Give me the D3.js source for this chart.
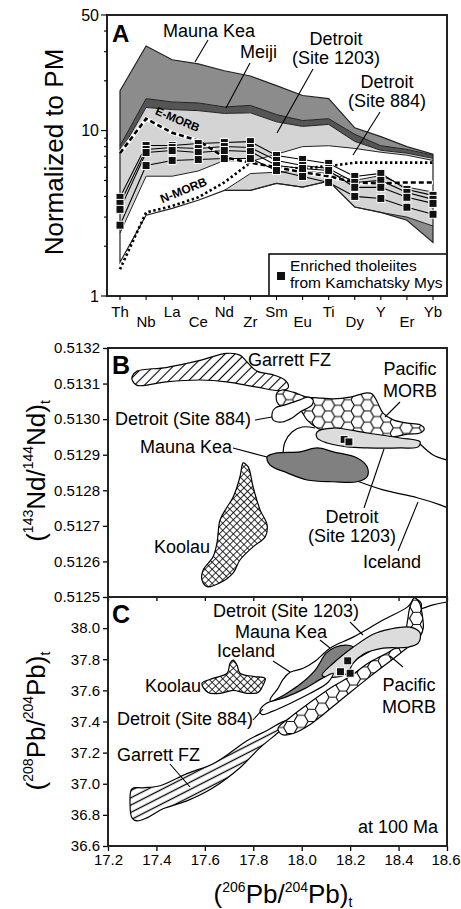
<!DOCTYPE html>
<html>
<head>
<meta charset="utf-8">
<script src="https://cdn.jsdelivr.net/npm/d3@7/dist/d3.min.js"></script>
<style>
  body { margin: 0; background: #fff; }
  svg { display: block; font-family: "Liberation Sans", Arial, Helvetica, sans-serif; }
</style>
</head>
<body>
<svg id="chart" width="461" height="909"></svg>
<script>
// ---------- Panel A: primitive-mantle normalised patterns ----------
const elements = ["Th", "Nb", "La", "Ce", "Nd", "Zr", "Sm", "Eu", "Ti", "Dy", "Y", "Er", "Yb"];
const yTicksA = [1, 10, 50];
const yMinorA = [2, 3, 4, 5, 6, 7, 8, 9, 20, 30, 40];

const maunaKeaTop = [17.4, 32.5, 26.8, 25.3, 23.0, 21.4, 18.7, 16.3, 15.6, 10.4, 9.2, 8.0, 7.2];
const meijiTop = [8.1, 15.6, 14.9, 14.7, 13.9, 14.2, 12.5, 11.5, 11.8, 9.5, 8.1, 7.7, 7.1];
const meijiBase = [7.3, 13.8, 13.4, 13.2, 12.7, 12.8, 11.3, 10.6, 10.9, 8.6, 7.6, 7.3, 6.8];
const detroit1203Base = [2.4, 5.3, 5.3, 5.7, 6.6, 6.5, 7.2, 8.0, 8.1, 7.8, 7.4, 7.1, 6.6];
const detroit884Top = [null, null, null, null, 4.35, 5.5, 5.6, 5.7, 5.5, 5.0, 5.35, 4.55, 4.25];
const detroit884Base = [null, null, null, null, 4.35, 4.35, 4.8, 4.55, 4.95, 3.45, 3.2, 3.0, 2.65];
const fieldFloor = [1.6, 3.08, 3.39, 3.79, 4.35, 4.35, 4.8, 4.55, 4.95, 3.45, 3.2, 2.87, 2.11];

const nMorb = [1.45, 3.2, 3.5, 3.95, 4.86, 6.4, 6.0, 5.9, 6.1, 6.4, 6.4, 6.4, 6.4];
const eMorb = [7.3, 11.8, 9.7, 8.7, 6.9, 6.4, 6.0, 5.6, 5.3, 4.86, 4.8, 4.86, 4.86];

const kamchatsky = [
  [3.95, 8.12, 8.12, 8.35, 8.47, 8.58, 7.07, 6.69, 6.33, 5.28, 5.51, 4.41, 4.06],
  [3.63, 7.69, 7.90, 7.79, 8.01, 7.90, 6.60, 6.15, 5.90, 4.86, 5.00, 4.23, 3.84],
  [3.34, 7.37, 7.58, 7.37, 7.58, 7.47, 6.15, 5.90, 5.74, 4.54, 4.54, 3.95, 3.63],
  [2.68, 6.15, 6.60, 6.69, 6.78, 6.78, 5.74, 5.28, 4.86, 4.00, 3.89, 3.44, 3.12]
];

// ---------- Panels B and C: isotope fields ----------
const pbTicks = [17.2, 17.4, 17.6, 17.8, 18.0, 18.2, 18.4, 18.6];
const ndTicks = [0.5125, 0.5126, 0.5127, 0.5128, 0.5129, 0.5130, 0.5131, 0.5132];
const pb208Ticks = [36.6, 36.8, 37.0, 37.2, 37.4, 37.6, 37.8, 38.0];

const garrettNd = [[17.30, 0.51312], [17.32, 0.513135], [17.44, 0.513145], [17.58, 0.513165], [17.69, 0.513185],
  [17.745, 0.51318], [17.775, 0.51316], [17.815, 0.513135], [17.88, 0.513125], [17.93, 0.51311], [17.945, 0.51309],
  [17.92, 0.51308], [17.815, 0.51309], [17.69, 0.513105], [17.58, 0.51311], [17.44, 0.513105], [17.32, 0.513095], [17.30, 0.51311]];
const morbNd = [[17.898, 0.513074], [17.919, 0.513082], [17.964, 0.513076], [18.022, 0.513062], [18.064, 0.51306],
  [18.13, 0.513057], [18.20, 0.513062], [18.27, 0.513074], [18.291, 0.513071], [18.312, 0.513048], [18.336, 0.513017],
  [18.378, 0.512998], [18.436, 0.512989], [18.489, 0.512984], [18.506, 0.512972], [18.489, 0.512961], [18.436, 0.512958],
  [18.378, 0.51295], [18.295, 0.51295], [18.212, 0.512947], [18.13, 0.512961], [18.064, 0.512975], [18.022, 0.512998],
  [17.993, 0.513026], [17.952, 0.513034], [17.919, 0.513034], [17.898, 0.513048]];
const detroit884Nd = [[17.878, 0.513017], [17.89, 0.513031], [17.931, 0.51304], [17.993, 0.513054], [18.026, 0.513062],
  [18.047, 0.513054], [18.043, 0.51304], [17.993, 0.51302], [17.96, 0.513003], [17.919, 0.512992], [17.882, 0.512998]];
const maunaKeaNd = [[17.857, 0.512894], [17.898, 0.512905], [17.993, 0.512908], [18.064, 0.512919], [18.13, 0.512908],
  [18.229, 0.512891], [18.27, 0.512866], [18.27, 0.512838], [18.229, 0.512824], [18.13, 0.512824], [18.022, 0.512829],
  [17.94, 0.512849], [17.869, 0.512871]];
const detroit1203Nd = [[18.064, 0.512964], [18.13, 0.512975], [18.27, 0.512961], [18.407, 0.512947], [18.489, 0.512936],
  [18.481, 0.512922], [18.407, 0.512919], [18.27, 0.512919], [18.188, 0.512922], [18.105, 0.512933], [18.064, 0.512947]];
const koolauNd = [[17.758, 0.512877], [17.779, 0.512866], [17.799, 0.51281], [17.828, 0.512745], [17.857, 0.512703],
  [17.849, 0.512669], [17.799, 0.512641], [17.745, 0.512604], [17.717, 0.512568], [17.663, 0.51254], [17.609, 0.512529],
  [17.588, 0.512548], [17.593, 0.512576], [17.634, 0.512613], [17.65, 0.512652], [17.663, 0.512717], [17.692, 0.512753],
  [17.717, 0.512781], [17.745, 0.512838], [17.754, 0.512871]];
const icelandNdArc = [[17.923, 0.512905], [17.931, 0.512936], [17.96, 0.512964], [18.002, 0.512978], [18.055, 0.512975]];
const icelandNdEast = [[18.489, 0.51293], [18.543, 0.512899], [18.60, 0.512885], [18.64, 0.51288]];
const icelandNdBase = [[18.229, 0.512826], [18.336, 0.512801], [18.477, 0.512779], [18.572, 0.512759], [18.64, 0.51274]];
const kamchatskyNd = [[18.175, 0.512943], [18.195, 0.512936]];

const garrettPb = [[17.291, 36.871], [17.299, 36.968], [17.345, 36.974], [17.415, 36.987], [17.526, 37.065],
  [17.634, 37.129], [17.717, 37.213], [17.774, 37.277], [17.857, 37.342], [17.936, 37.406], [17.952, 37.394],
  [17.898, 37.323], [17.828, 37.232], [17.745, 37.103], [17.634, 36.974], [17.526, 36.89], [17.427, 36.839],
  [17.361, 36.781], [17.32, 36.761], [17.299, 36.781]];
const koolauPb = [[17.588, 37.645], [17.634, 37.677], [17.692, 37.71], [17.704, 37.774], [17.717, 37.794],
  [17.733, 37.761], [17.745, 37.71], [17.799, 37.69], [17.849, 37.677], [17.84, 37.632], [17.82, 37.587],
  [17.774, 37.581], [17.717, 37.60], [17.663, 37.581], [17.613, 37.587]];
const icelandPb = [[17.869, 37.535], [17.902, 37.613], [17.923, 37.671], [17.952, 37.716], [18.006, 37.742],
  [18.055, 37.787], [18.117, 37.871], [18.212, 37.942], [18.336, 38.052], [18.436, 38.135], [18.469, 38.187],
  [18.494, 38.155], [18.456, 38.019], [18.324, 37.89], [18.159, 37.742], [17.993, 37.60], [17.894, 37.51]];
const maunaKeaPb = [[17.849, 37.497], [17.931, 37.574], [17.993, 37.639], [18.055, 37.729], [18.101, 37.839],
  [18.138, 37.877], [18.192, 37.89], [18.217, 37.871], [18.179, 37.787], [18.117, 37.697], [18.035, 37.60],
  [17.952, 37.535], [17.869, 37.477]];
const detroit1203Pb = [[18.084, 37.697], [18.13, 37.774], [18.212, 37.877], [18.295, 37.961], [18.365, 37.994],
  [18.448, 38.006], [18.489, 37.968], [18.481, 37.903], [18.436, 37.877], [18.336, 37.871], [18.254, 37.832],
  [18.212, 37.774], [18.188, 37.71], [18.13, 37.684]];
const morbPb = [[17.902, 37.355], [17.952, 37.426], [18.035, 37.523], [18.13, 37.626], [18.20, 37.69],
  [18.274, 37.774], [18.365, 37.852], [18.419, 37.916], [18.436, 38.039], [18.448, 38.142], [18.465, 38.194],
  [18.486, 38.161], [18.498, 38.084], [18.502, 38.0], [18.489, 37.948], [18.407, 37.839], [18.283, 37.69],
  [18.159, 37.535], [18.035, 37.381], [17.964, 37.323], [17.919, 37.316]];
const detroit884Pb = [[17.828, 37.471], [17.853, 37.516], [17.931, 37.555], [18.014, 37.613], [18.084, 37.677],
  [18.13, 37.71], [18.109, 37.652], [18.035, 37.581], [17.952, 37.516], [17.878, 37.465], [17.836, 37.445]];
const icelandPbEast = [[18.481, 38.116], [18.539, 38.148], [18.60, 38.168], [18.64, 38.175]];
const kamchatskyPb = [[18.19, 37.79], [18.16, 37.72], [18.20, 37.71]];

// ---------- set up ----------
const svg = d3.select("#chart");
const defs = svg.append("defs");

function hexPattern(id, r) {
  const h = Math.sqrt(3) * r;
  const p = defs.append("pattern").attr("id", id)
    .attr("patternUnits", "userSpaceOnUse").attr("width", 3 * r).attr("height", h);
  p.append("rect").attr("width", 3 * r).attr("height", h).attr("fill", "#fff");
  p.append("path")
    .attr("d", `M0,${h / 2}L${r / 2},0L${1.5 * r},0L${2 * r},${h / 2}L${1.5 * r},${h}L${r / 2},${h}Z M${2 * r},${h / 2}H${3 * r}`)
    .attr("fill", "none").attr("stroke", "#000").attr("stroke-width", 1.1);
}
function hatchPattern(id, size, angle, width) {
  const p = defs.append("pattern").attr("id", id)
    .attr("patternUnits", "userSpaceOnUse").attr("width", size).attr("height", size)
    .attr("patternTransform", `rotate(${angle})`);
  p.append("rect").attr("width", size).attr("height", size).attr("fill", "#fff");
  p.append("path").attr("d", `M${size / 2},0V${size}`).attr("stroke", "#000").attr("stroke-width", width);
}
function crossPattern(id, size) {
  const p = defs.append("pattern").attr("id", id)
    .attr("patternUnits", "userSpaceOnUse").attr("width", size).attr("height", size)
    .attr("patternTransform", "rotate(45)");
  p.append("rect").attr("width", size).attr("height", size).attr("fill", "#fff");
  p.append("path").attr("d", `M0,${size / 2}H${size}M${size / 2},0V${size}`)
    .attr("stroke", "#000").attr("stroke-width", 0.8);
}
hexPattern("hexB", 6.5);
hexPattern("hexC", 7);
hatchPattern("hatchB", 7, 45, 1.1);
hatchPattern("hatchC", 6.5, 63, 1.3);
crossPattern("cross", 5);

function richText(g, parts, attrs, big, small, supShift, subShift) {
  const t = g.append("text");
  Object.entries(attrs).forEach(([k, v]) => t.attr(k, v));
  let shift = 0;
  parts.forEach(([txt, kind]) => {
    const target = kind === "sup" ? supShift : kind === "sub" ? subShift : 0;
    t.append("tspan").attr("dy", target - shift).attr("font-size", kind ? small : big).text(txt);
    shift = target;
  });
  return t;
}
function label(g, x, y, text, size = 18, anchor = "start") {
  g.append("text").attr("x", x).attr("y", y).attr("font-size", size)
    .attr("text-anchor", anchor).attr("fill", "#000").text(text);
}
function leader(g, x1, y1, x2, y2) {
  g.append("line").attr("x1", x1).attr("y1", y1).attr("x2", x2).attr("y2", y2)
    .attr("stroke", "#000").attr("stroke-width", 1.1);
}
function squares(g, pts, xs, ys, size) {
  g.selectAll(null).data(pts).join("rect")
    .attr("x", d => xs(d[0]) - size / 2).attr("y", d => ys(d[1]) - size / 2)
    .attr("width", size).attr("height", size)
    .attr("fill", "#111").attr("stroke", "#fff").attr("stroke-width", 1);
}

// ---------- Panel A ----------
const A = { left: 107, right: 447, top: 15, bottom: 296 };
const xA = d3.scalePoint().domain(elements).range([120, 433]);
const yA = d3.scaleLog().domain([1, 50]).range([A.bottom, A.top]);

defs.append("clipPath").attr("id", "clipA").append("rect")
  .attr("x", A.left).attr("y", A.top).attr("width", A.right - A.left).attr("height", A.bottom - A.top);

const gA = svg.append("g");
const plotA = gA.append("g").attr("clip-path", "url(#clipA)");

function fieldArea(top, base) {
  return d3.area()
    .defined((d, i) => top[i] != null && base[i] != null)
    .x(d => xA(d))
    .y0((d, i) => yA(base[i]))
    .y1((d, i) => yA(top[i]))(elements);
}
function patternLine(values) {
  return d3.line()
    .defined(v => v != null)
    .x((v, i) => xA(elements[i]))
    .y(v => yA(v))(values);
}

plotA.append("path").attr("d", fieldArea(maunaKeaTop, meijiTop)).attr("fill", "#8c8c8c");
plotA.append("path").attr("d", fieldArea(detroit884Base, fieldFloor)).attr("fill", "#8c8c8c");
plotA.append("path").attr("d", fieldArea(meijiTop, meijiBase)).attr("fill", "#555");
plotA.append("path").attr("d", fieldArea(meijiBase, detroit1203Base)).attr("fill", "#d4d4d4");
plotA.append("path").attr("d", fieldArea(detroit884Top, detroit884Base)).attr("fill", "#d4d4d4");

const envelope = elements.map((e, i) => [xA(e), yA(maunaKeaTop[i])])
  .concat(elements.map((e, i) => [xA(e), yA(fieldFloor[i])]).reverse());
plotA.append("path").attr("d", d3.line()(envelope) + "Z")
  .attr("fill", "none").attr("stroke", "#222").attr("stroke-width", 1.2);
[meijiTop, meijiBase, detroit1203Base, detroit884Top, detroit884Base].forEach(vals => {
  plotA.append("path").attr("d", patternLine(vals))
    .attr("fill", "none").attr("stroke", "#222").attr("stroke-width", 1);
});

// reference MORB patterns
plotA.append("path").attr("d", patternLine(nMorb))
  .attr("fill", "none").attr("stroke", "#000").attr("stroke-width", 2.6).attr("stroke-dasharray", "2.4,2.6");
plotA.append("path").attr("d", patternLine(eMorb))
  .attr("fill", "none").attr("stroke", "#fff").attr("stroke-width", 4);
plotA.append("path").attr("d", patternLine(eMorb))
  .attr("fill", "none").attr("stroke", "#000").attr("stroke-width", 2.6).attr("stroke-dasharray", "5,3");

kamchatsky.forEach(sample => {
  plotA.append("path").attr("d", patternLine(sample))
    .attr("fill", "none").attr("stroke", "#000").attr("stroke-width", 1.1);
});
kamchatsky.forEach(sample => {
  plotA.selectAll(null).data(sample).join("rect")
    .attr("x", (v, i) => xA(elements[i]) - 4).attr("y", v => yA(v) - 4)
    .attr("width", 8).attr("height", 8)
    .attr("fill", "#111").attr("stroke", "#fff").attr("stroke-width", 1);
});

gA.append("text").attr("transform", "translate(176,123) rotate(23)")
  .attr("text-anchor", "middle").attr("font-size", 11.5).attr("font-weight", "bold").text("E-MORB");
gA.append("text").attr("transform", "translate(185,194) rotate(-22)")
  .attr("text-anchor", "middle").attr("font-size", 12).attr("font-weight", "bold").text("N-MORB");

// legend
gA.append("rect").attr("x", 269).attr("y", 254).attr("width", A.right - 269).attr("height", A.bottom - 254)
  .attr("fill", "#fff").attr("stroke", "#000").attr("stroke-width", 1.5);
gA.append("rect").attr("x", 277).attr("y", 272).attr("width", 8).attr("height", 8).attr("fill", "#111");
label(gA, 290, 271, "Enriched tholeiites", 15.5);
label(gA, 290, 288, "from Kamchatsky Mys", 15.5);

// field labels
label(gA, 163, 37, "Mauna Kea");
leader(gA, 208, 40, 195, 62);
label(gA, 240, 58, "Meiji");
leader(gA, 250, 63, 226, 108);
label(gA, 336, 45, "Detroit", 18, "middle");
label(gA, 336, 64, "(Site 1203)", 18, "middle");
leader(gA, 313, 69, 277, 133);
label(gA, 387, 88, "Detroit", 18, "middle");
label(gA, 387, 107, "(Site 884)", 18, "middle");
leader(gA, 380, 112, 353, 155);

// axes A
gA.append("rect").attr("x", A.left).attr("y", A.top).attr("width", A.right - A.left).attr("height", A.bottom - A.top)
  .attr("fill", "none").attr("stroke", "#222").attr("stroke-width", 2);
yMinorA.forEach(v => leader(gA, A.left - 3, yA(v), A.left, yA(v)));
yTicksA.forEach(v => {
  leader(gA, A.left - 6, yA(v), A.left, yA(v));
  gA.append("text").attr("x", A.left - 8).attr("y", yA(v)).attr("dy", "0.35em")
    .attr("text-anchor", "end").attr("font-size", 16).text(v);
});
elements.forEach((e, i) => {
  leader(gA, xA(e), A.bottom, xA(e), A.bottom + 4);
  gA.append("text").attr("x", xA(e)).attr("y", i % 2 === 0 ? 317 : 327)
    .attr("text-anchor", "middle").attr("font-size", 15).text(e);
});
gA.append("text").attr("transform", "translate(63,152) rotate(-90)")
  .attr("text-anchor", "middle").attr("font-size", 26).text("Normalized to PM");
gA.append("text").attr("x", 112).attr("y", 42).attr("font-size", 24).attr("font-weight", "bold").text("A");

// ---------- Panels B and C ----------
const P = { left: 108, right: 447 };
const B = { top: 348, bottom: 597 };
const C = { top: 597, bottom: 846 };
const xPb = d3.scaleLinear().domain([17.2, 18.6]).range([P.left, P.right]);
const yNd = d3.scaleLinear().domain([0.5125, 0.5132]).range([B.bottom, B.top]);
const yPb = d3.scaleLinear().domain([36.6, 38.2]).range([C.bottom, C.top]);

defs.append("clipPath").attr("id", "clipB").append("rect")
  .attr("x", P.left).attr("y", B.top).attr("width", P.right - P.left).attr("height", B.bottom - B.top);
defs.append("clipPath").attr("id", "clipC").append("rect")
  .attr("x", P.left).attr("y", C.top).attr("width", P.right - P.left).attr("height", C.bottom - C.top);

const closedCurve = ys => d3.line().curve(d3.curveCatmullRomClosed.alpha(0.5)).x(d => xPb(d[0])).y(d => ys(d[1]));
const openCurve = ys => d3.line().curve(d3.curveCatmullRom.alpha(0.5)).x(d => xPb(d[0])).y(d => ys(d[1]));

function field(g, pts, ys, fill) {
  g.append("path").attr("d", closedCurve(ys)(pts))
    .attr("fill", fill).attr("stroke", "#000").attr("stroke-width", 1.2);
}
function openLine(g, pts, ys) {
  g.append("path").attr("d", openCurve(ys)(pts))
    .attr("fill", "none").attr("stroke", "#000").attr("stroke-width", 1.2);
}

// Panel B
const gB = svg.append("g");
const plotB = gB.append("g").attr("clip-path", "url(#clipB)");
field(plotB, garrettNd, yNd, "url(#hatchB)");
openLine(plotB, icelandNdArc, yNd);
openLine(plotB, icelandNdEast, yNd);
openLine(plotB, icelandNdBase, yNd);
field(plotB, koolauNd, yNd, "url(#cross)");
field(plotB, maunaKeaNd, yNd, "#808080");
field(plotB, morbNd, yNd, "url(#hexB)");
field(plotB, detroit1203Nd, yNd, "#dcdcdc");
field(plotB, detroit884Nd, yNd, "#fff");
squares(plotB, kamchatskyNd, xPb, yNd, 8);

label(gB, 248, 366, "Garrett FZ");
label(gB, 410, 375, "Pacific", 18, "middle");
label(gB, 410, 397, "MORB", 18, "middle");
leader(gB, 400, 402, 385, 417);
label(gB, 115, 425, "Detroit (Site 884)");
leader(gB, 255, 420, 272, 417);
label(gB, 140, 453, "Mauna Kea");
leader(gB, 233, 448, 267, 457);
label(gB, 352, 523, "Detroit", 18, "middle");
label(gB, 352, 542, "(Site 1203)", 18, "middle");
leader(gB, 384, 449, 364, 508);
label(gB, 154, 553, "Koolau");
label(gB, 363, 568, "Iceland");
leader(gB, 398, 551, 418, 502);
gB.append("text").attr("x", 112).attr("y", 374).attr("font-size", 25).attr("font-weight", "bold").text("B");

// Panel C
const gC = svg.append("g");
const plotC = gC.append("g").attr("clip-path", "url(#clipC)");
field(plotC, garrettPb, yPb, "url(#hatchC)");
field(plotC, koolauPb, yPb, "url(#cross)");
field(plotC, icelandPb, yPb, "#fff");
openLine(plotC, icelandPbEast, yPb);
field(plotC, maunaKeaPb, yPb, "#808080");
field(plotC, morbPb, yPb, "url(#hexC)");
field(plotC, detroit1203Pb, yPb, "#dcdcdc");
field(plotC, detroit884Pb, yPb, "#fff");
squares(plotC, kamchatskyPb, xPb, yPb, 8);

label(gC, 213, 617, "Detroit (Site 1203)");
leader(gC, 350, 622, 363, 635);
label(gC, 235, 638, "Mauna Kea");
leader(gC, 320, 640, 330, 648);
label(gC, 217, 657, "Iceland");
leader(gC, 273, 661, 290, 672);
label(gC, 145, 692, "Koolau");
label(gC, 409, 691, "Pacific", 18, "middle");
label(gC, 409, 713, "MORB", 18, "middle");
leader(gC, 403, 667, 390, 656);
label(gC, 117, 725, "Detroit (Site 884)");
leader(gC, 253, 720, 263, 709);
label(gC, 117, 761, "Garrett FZ");
leader(gC, 170, 764, 190, 787);
label(gC, 358, 833, "at 100 Ma");
gC.append("text").attr("x", 112).attr("y", 623).attr("font-size", 25).attr("font-weight", "bold").text("C");

// axes B and C
function styleAxis(g) {
  g.select(".domain").remove();
  g.attr("font-family", null);
  g.selectAll("text").attr("font-size", 15).attr("fill", "#000");
  g.selectAll("line").attr("stroke", "#000").attr("stroke-width", 1.3);
}
svg.append("g").attr("transform", `translate(${P.left},0)`)
  .call(d3.axisLeft(yNd).tickValues(ndTicks).tickFormat(d3.format(".4f")).tickSize(5).tickPadding(3))
  .call(styleAxis);
svg.append("g").attr("transform", `translate(${P.left},0)`)
  .call(d3.axisLeft(yPb).tickValues(pb208Ticks).tickFormat(d3.format(".1f")).tickSize(5).tickPadding(3))
  .call(styleAxis);
svg.append("g").attr("transform", `translate(0,${B.bottom})`)
  .call(d3.axisBottom(xPb).tickValues(pbTicks).tickFormat("").tickSize(4))
  .call(styleAxis);
svg.append("g").attr("transform", `translate(0,${C.bottom})`)
  .call(d3.axisBottom(xPb).tickValues(pbTicks).tickFormat(d3.format(".1f")).tickSize(5).tickPadding(3))
  .call(styleAxis)
  .call(g => g.selectAll(".tick:last-of-type text").attr("dx", -1.5));

svg.append("rect").attr("x", P.left).attr("y", B.top).attr("width", P.right - P.left).attr("height", B.bottom - B.top)
  .attr("fill", "none").attr("stroke", "#222").attr("stroke-width", 2);
svg.append("rect").attr("x", P.left).attr("y", C.top).attr("width", P.right - P.left).attr("height", C.bottom - C.top)
  .attr("fill", "none").attr("stroke", "#222").attr("stroke-width", 2);

// axis titles with isotope superscripts
richText(svg, [["("], ["143", "sup"], ["Nd/"], ["144", "sup"], ["Nd)"], ["t", "sub"]],
  { transform: "translate(45,471) rotate(-90)", "text-anchor": "middle" }, 26, 14, -12, 5);
richText(svg, [["("], ["208", "sup"], ["Pb/"], ["204", "sup"], ["Pb)"], ["t", "sub"]],
  { transform: "translate(45,721) rotate(-90)", "text-anchor": "middle" }, 26, 14, -12, 5);
richText(svg, [["("], ["206", "sup"], ["Pb/"], ["204", "sup"], ["Pb)"], ["t", "sub"]],
  { x: 283, y: 903, "text-anchor": "middle" }, 26, 14, -11, 4);
</script>
</body>
</html>
